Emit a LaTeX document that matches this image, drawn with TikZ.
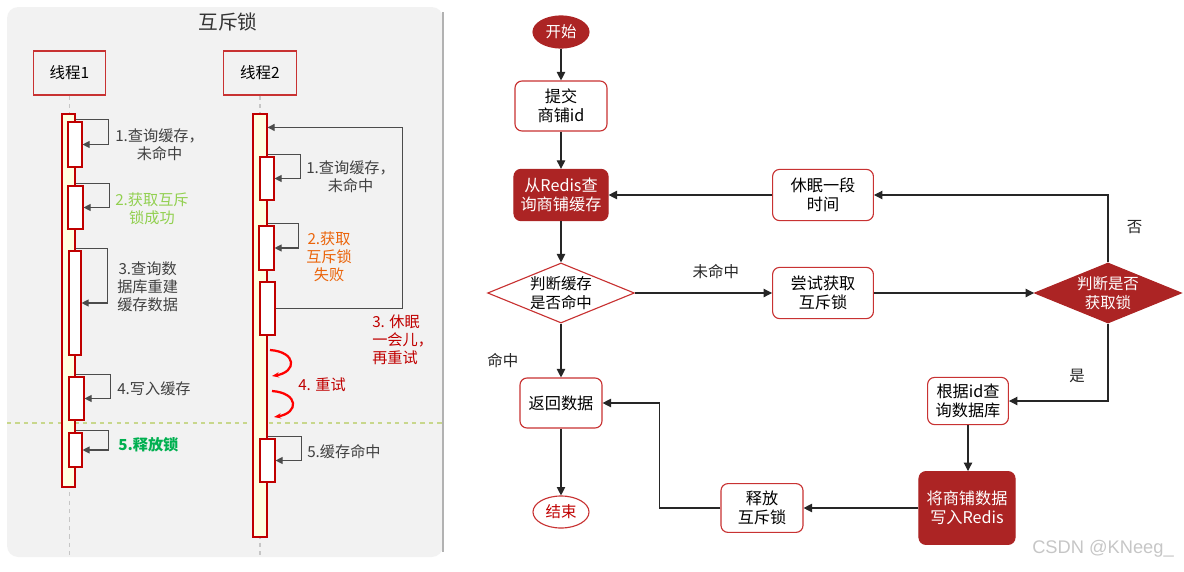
\documentclass[tikz,border=0pt]{standalone}
\usepackage{fontspec}
\setmainfont{Noto Sans CJK SC}
\newfontfamily\wmfont{Liberation Sans}
\usetikzlibrary{shapes.geometric,arrows.meta,positioning,fit,calc}
\definecolor{lockred}{RGB}{192,0,0}
\definecolor{fillred}{RGB}{172,36,36}
\definecolor{edgered}{RGB}{200,50,50}
\definecolor{okgreen}{RGB}{146,208,80}
\definecolor{freegreen}{RGB}{0,176,80}
\definecolor{failorange}{RGB}{235,100,10}
\definecolor{panelgray}{RGB}{242,242,242}
\definecolor{barcream}{RGB}{255,255,224}
\definecolor{splitgreen}{RGB}{200,215,140}
\tikzset{
  seqhead/.style={rectangle, draw=edgered, thick, fill=panelgray,
                  minimum width=1.82cm, minimum height=1.1cm,
                  font=\fontsize{11}{13}\selectfont},
  lifeline/.style={dashed, draw=gray!45, thick},
  actbar/.style={rectangle, draw=lockred, fill=barcream, inner sep=0pt, thick},
  callbox/.style={rectangle, draw=lockred, fill=white, inner sep=0pt, thick},
  selfloop/.style={draw=black!70, thick, -{Triangle[length=5pt,width=5pt]}},
  msg/.style={font=\fontsize{10.8}{12.8}\selectfont, text=black!75, align=center,
              anchor=north west, inner sep=0pt},
  retry/.style={draw=red, line width=1.6pt, -{Stealth[length=5pt]}},
  terminal/.style={ellipse, draw=fillred, fill=fillred, text=white, thick,
                   minimum width=1.4cm, minimum height=0.8cm, inner sep=0pt,
                   font=\fontsize{11}{13.5}\selectfont},
  proc/.style={rectangle, rounded corners=5pt, draw=edgered, fill=white, thick,
               align=center, inner sep=0pt, font=\fontsize{11.5}{13.5}\selectfont},
  keyproc/.style={proc, draw=fillred, fill=fillred, text=white},
  decision/.style={diamond, draw=edgered, fill=white, thick, aspect=2.45,
                   inner sep=0pt, minimum width=3.67cm, minimum height=1.5cm,
                   align=center, font=\fontsize{11}{13.5}\selectfont},
  keydecision/.style={decision, draw=fillred, fill=fillred, text=white},
  arrow/.style={-{Triangle[length=6pt,width=6pt]}, thick, draw=black!85},
  edgelabel/.style={font=\fontsize{11}{13.5}\selectfont, text=black!85, inner sep=0pt}
}
\begin{document}
\begin{tikzpicture}[x=0.025cm, y=-0.025cm]
\useasboundingbox (0,0) rectangle (1184,572);
% mutex sequence panel
\fill[panelgray, rounded corners=8pt] (7,7) rectangle (443,557);
\draw[gray!60, line width=1.2pt] (443,12) -- (443,552);
\node[font=\fontsize{14}{16}\selectfont, text=black!80] (title) at (228,22) {互斥锁};
\coordinate (bot) at (0,557);

\node[seqhead] (th1) at (69.5,73) {线程1};
\node[seqhead] (th2) at (260,73) {线程2};
\draw[lifeline] (th1.south) -- (th1.south |- bot);
\draw[lifeline] (th2.south) -- (th2.south |- bot);
\draw[dashed, splitgreen, thick] (7,423) -- (443,423);

\node[actbar, fit={(62,114) (75,487)}] (a1) {};
\node[actbar, fit={(253,114) (267,537)}] (a2) {};

% thread 1
\node[callbox, fit={(68,122) (82,167)}] (c11) {};
\node[callbox, fit={(68,186) (83,229)}] (c12) {};
\node[callbox, fit={(69,251) (81,355)}] (c13) {};
\node[callbox, fit={(69,377) (84,420)}] (c14) {};
\node[callbox, fit={(69,433) (82,467)}] (c15) {};
\draw[selfloop] ($(a1.east |- c11.north)+(0,-2)$) -- ++(33,0) |- (c11.east);
\draw[selfloop] ($(a1.east |- c12.north)+(0,-2)$) -- ++(34,0) |- (c12.east);
\draw[selfloop] ($(a1.east |- c13.north)+(0,-2)$) -- ++(32,0) |- (c13.east);
\draw[selfloop] ($(a1.east |- c14.north)+(0,-2)$) -- ++(35,0) |- (c14.east);
\draw[selfloop] ($(a1.east |- c15.north)+(0,-2)$) -- ++(33,0) |- (c15.east);
\node[msg] (m11) at (115,128) {1.查询缓存，\\未命中};
\node[msg, text=okgreen] (m12) at (115,192) {2.获取互斥\\锁成功};
\node[msg] (m13) at (117,261) {3.查询数\\据库重建\\缓存数据};
\node[msg] (m14) at (117,381) {4.写入缓存};
\node[msg, text=freegreen, font=\fontsize{10.8}{12.8}\selectfont\bfseries] (m15) at (118,437) {5.释放锁};

% thread 2
\node[callbox, fit={(260,157) (274,200)}] (c21) {};
\node[callbox, fit={(259,226) (274,270)}] (c22) {};
\node[callbox, fit={(260,282) (275,335)}] (c23) {};
\node[callbox, fit={(260,439) (275,482)}] (c25) {};
\draw[selfloop] ($(a2.east |- c21.north)+(0,-2)$) -- ++(33,0) |- (c21.east);
\draw[selfloop] ($(a2.east |- c22.north)+(0,-2)$) -- ++(31,0) |- (c22.east);
\draw[selfloop] ($(a2.east |- c25.north)+(0,-2)$) -- ++(34,0) |- (c25.east);
\draw[selfloop] (c23.east) -- ++(127,0) |- ($(a2.north east)+(0,14)$);
\draw[retry] (270,350) .. controls (297,352) and (297,372) .. (272,376);
\draw[retry] (272,391) .. controls (299,393) and (299,413) .. (274,417);
\node[msg] (m21) at (306,160) {1.查询缓存，\\未命中};
\node[msg, text=failorange] (m22) at (306,231) {2.获取\\互斥锁\\失败};
\node[msg, text=lockred, align=left] (m23) at (372,315) {3. 休眠\\一会儿，\\再重试};
\node[msg, text=lockred] (m24) at (298,378) {4. 重试};
\node[msg] (m25) at (307,444) {5.缓存命中};

% cache flow chart
\node[terminal] (start) at (561,32) {开始};
\node[proc, minimum width=2.3cm, minimum height=1.25cm] (submit) at (561,106) {提交\\商铺id};
\node[keyproc, minimum width=2.35cm, minimum height=1.28cm] (query) at (561,195) {从Redis查\\询商铺缓存};
\node[decision] (hit) at (561,293) {判断缓存\\是否命中};
\node[proc, minimum width=2.52cm, minimum height=1.28cm] (trylock) at (823,293) {尝试获取\\互斥锁};
\node[keydecision] (gotlock) at (1108,293) {判断是否\\获取锁};
\node[proc, minimum width=2.52cm, minimum height=1.28cm] (sleep) at (823,195) {休眠一段\\时间};
\node[proc, minimum width=2.05cm, minimum height=1.25cm] (back) at (561,403) {返回数据};
\node[terminal, draw=edgered, fill=white, text=lockred] (stop) at (561,512) {结束};
\node[proc, minimum width=2.02cm, minimum height=1.18cm] (dbquery) at (968,401) {根据id查\\询数据库};
\node[keyproc, minimum width=2.4cm, minimum height=1.82cm] (write) at (967,508) {将商铺数据\\写入Redis};
\node[proc, minimum width=2.05cm, minimum height=1.22cm] (unlock) at (762,508) {释放\\互斥锁};

\draw[arrow] (start) -- (submit);
\draw[arrow] (submit) -- (query);
\draw[arrow] (query) -- (hit);
\draw[arrow] (hit) -- node[edgelabel, pos=0.59, above=10pt] {未命中} (trylock);
\draw[arrow] (hit) -- node[edgelabel, pos=0.68, left=30pt] {命中} (back);
\draw[arrow] (trylock) -- (gotlock);
\draw[arrow] (gotlock.north) |- node[edgelabel, pos=0.265, right=13pt] {否} (sleep.east);
\draw[arrow] (sleep) -- (query);
\draw[arrow] (gotlock.south) |- node[edgelabel, pos=0.34, left=16pt] {是} (dbquery.east);
\draw[arrow] (dbquery.south) -- (dbquery.south |- write.north);
\draw[arrow] (write) -- (unlock);
\draw[arrow] (unlock.west) -- ++(-61,0) |- (back.east);
\draw[arrow] (back) -- (stop);

\node[font=\wmfont\fontsize{13}{15}\selectfont, text=gray!45] (mark) at (1103,549) {CSDN @KNeeg\_};
\end{tikzpicture}
\end{document}
